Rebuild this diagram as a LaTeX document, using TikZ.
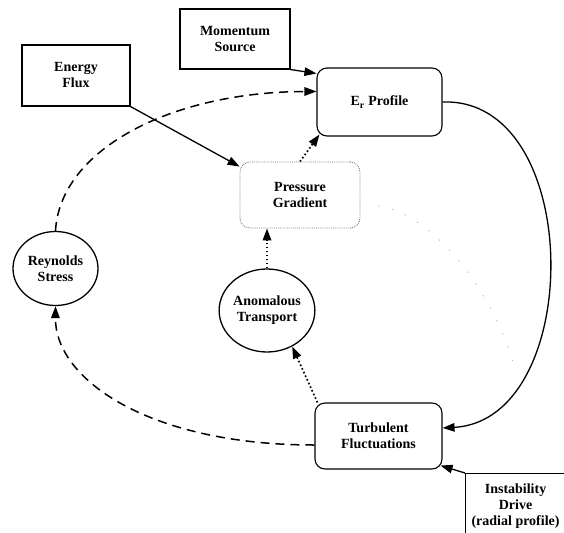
\documentclass[tikz,border=0pt]{standalone}
\usepackage{fontspec}
\setmainfont{Liberation Serif}
\usetikzlibrary{arrows.meta,shapes.geometric}
\begin{document}
\begin{tikzpicture}[x=1pt,y=-1pt,
  every node/.style={font=\bfseries\fontsize{14}{16}\selectfont, align=center, inner sep=0pt},
  sqbox/.style={draw, line width=1.1pt, rectangle},
  rbox/.style={draw, line width=1.1pt, rectangle, rounded corners=10pt},
  pbox/.style={draw=gray, line width=0.9pt, densely dotted, rectangle, rounded corners=10pt},
  ell/.style={draw, line width=1.3pt, ellipse},
  tip/.style={-{Triangle[length=12pt,width=8.5pt]}},
  solidarrow/.style={tip, line width=1.3pt},
  dasharrow/.style={tip, line width=1.5pt, dash pattern=on 9pt off 6pt},
  dotarrow/.style={tip, line width=1.7pt, dash pattern=on 1.6pt off 2.4pt},
  faint/.style={gray!55, line width=0.9pt, dash pattern=on 1.2pt off 13pt}
]
\useasboundingbox (0,0) rectangle (564,532);
\fill[white] (0,0) rectangle (564,532);

\node[sqbox, minimum width=110pt, minimum height=60pt] (mom) at (235,39) {Momentum\\Source};
\node[rbox, minimum width=125pt, minimum height=68pt] (er) at (379.5,102) {E\textsubscript{r} Profile};
\node[sqbox, minimum width=108pt, minimum height=61pt] (energy) at (76,75.5) {Energy\\Flux};
\node[pbox, minimum width=120pt, minimum height=66pt] (press) at (300,195) {Pressure\\Gradient};
\node[ell, minimum width=85pt, minimum height=74pt] (rey) at (55.5,268.5) {Reynolds\\Stress};
\node[ell, minimum width=94pt, minimum height=83pt] (anom) at (267,310.5) {Anomalous\\Transport};
\node[rbox, minimum width=127pt, minimum height=66pt] (turb) at (378.5,436) {Turbulent\\Fluctuations};
\node[sqbox, minimum width=100pt, minimum height=66pt, anchor=north west] (inst) at (465,473) {Instability\\Drive\\(radial profile)};

\coordinate (fa) at (378,206);
\coordinate (fb) at (516,373);

% solid connectors
\draw[solidarrow] (mom.south east) -- ([yshift=-6pt]er.north west);
\draw[solidarrow] (energy.south east) -- ([yshift=-5pt]press.north west);
\draw[solidarrow] (er.east) .. controls (585,97) and (585,420) .. ([yshift=8pt]turb.east);
\draw[solidarrow] (inst.north west) -- ([xshift=-2pt,yshift=4pt]turb.south east);

% dashed connectors
\draw[dasharrow] (rey.north) .. controls (60,150) and (170,92) .. ([yshift=-24pt]er.north west);
\draw[dasharrow] ([yshift=-9pt]turb.west) .. controls (150,445) and (55,380) .. (rey.south);

% dotted connectors
\draw[dotarrow] (press.north) -- ([xshift=3pt,yshift=2pt]er.south west);
\draw[dotarrow] (anom.north) -- (anom.north |- press.south);
\draw[dotarrow] ([xshift=3pt]turb.north west) -- (anom.-55);

% faint dotted trace
\draw[faint] (fa) .. controls (430,212) and (495,290) .. (fb);
\end{tikzpicture}
\end{document}
